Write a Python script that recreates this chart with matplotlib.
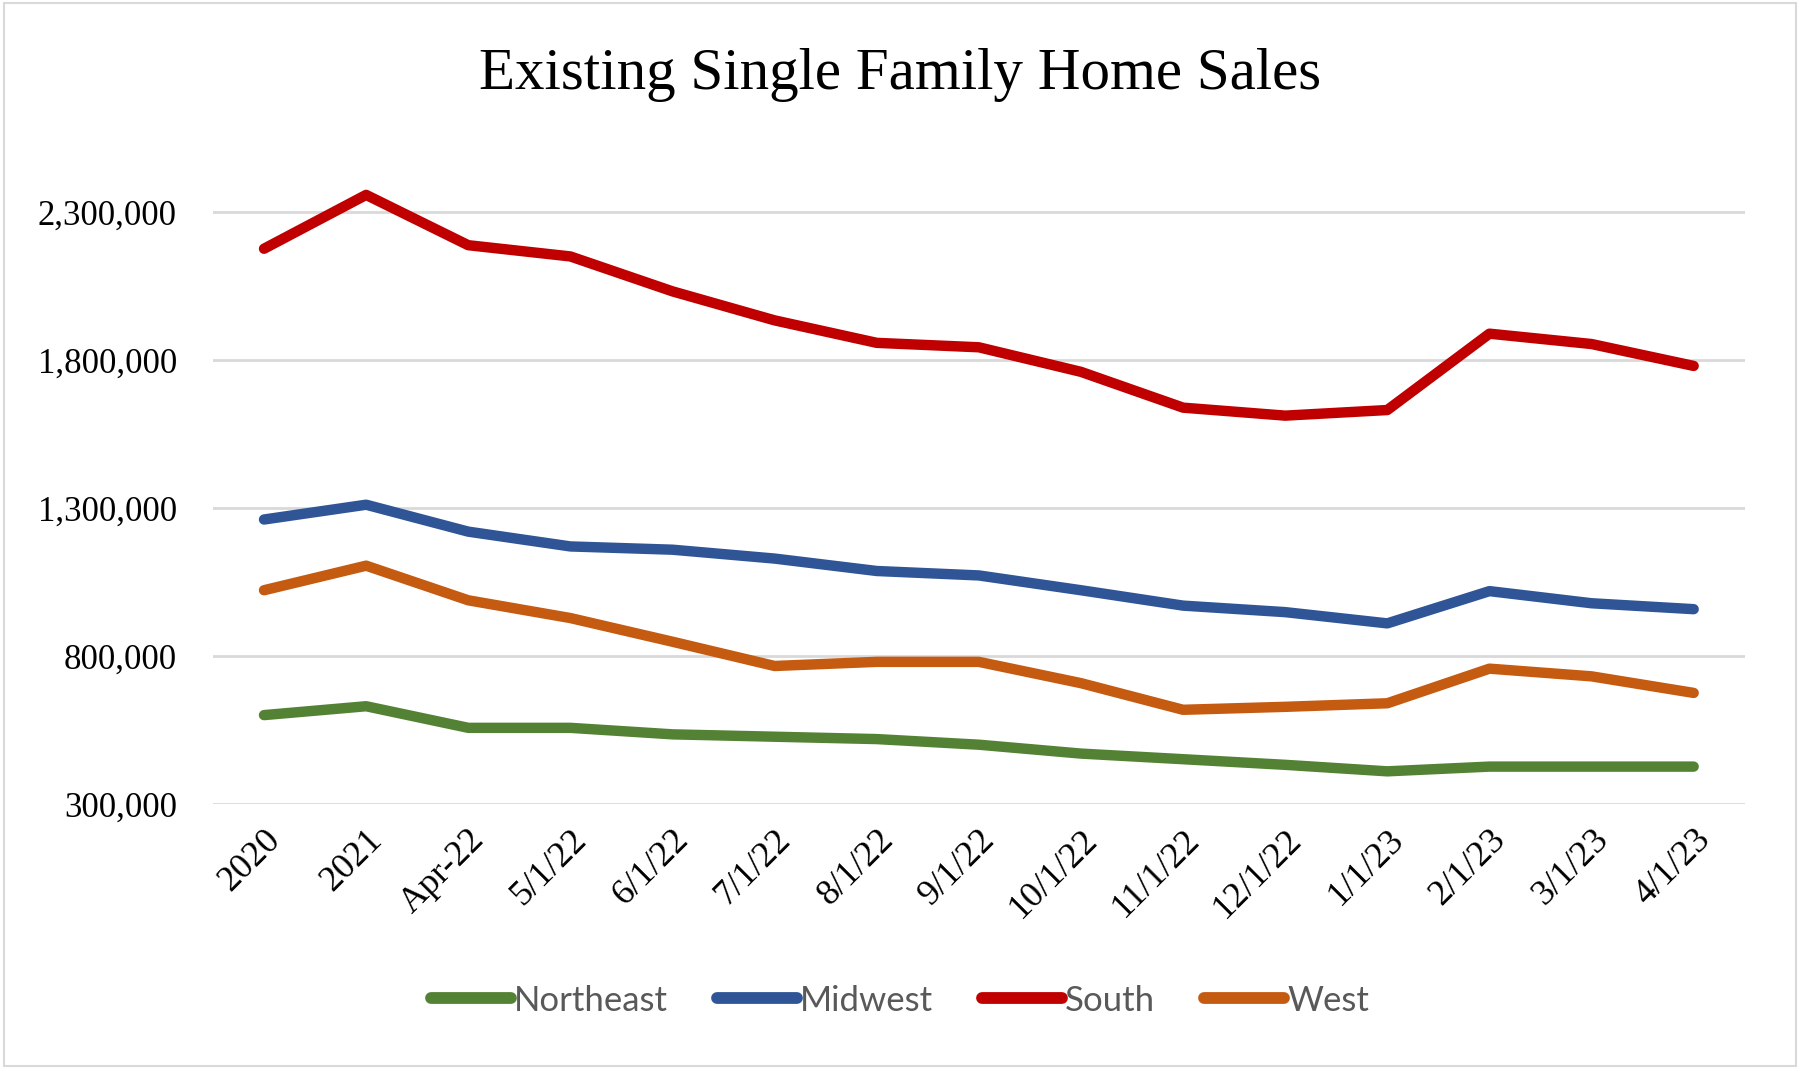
import matplotlib.pyplot as plt
from matplotlib.patches import Rectangle
from matplotlib.ticker import FuncFormatter

# categories along the x axis
periods = ["2020", "2021", "Apr-22", "5/1/22", "6/1/22", "7/1/22", "8/1/22",
           "9/1/22", "10/1/22", "11/1/22", "12/1/22", "1/1/23", "2/1/23",
           "3/1/23", "4/1/23"]

# existing single family home sales by region
northeast = [600000, 630000, 557000, 557000, 535000, 527000, 519000, 500000,
             470000, 451000, 432000, 410000, 426000, 426000, 426000]
midwest = [1261000, 1311000, 1220000, 1170000, 1159000, 1129000, 1087000,
           1072000, 1022000, 970000, 948000, 910000, 1019000, 978000, 958000]
south = [2176000, 2358000, 2188000, 2150000, 2032000, 1934000, 1858000,
         1843000, 1760000, 1639000, 1612000, 1631000, 1889000, 1854000, 1780000]
west = [1022000, 1105000, 988000, 928000, 848000, 766000, 780000, 780000,
        708000, 618000, 628000, 640000, 757000, 731000, 675000]

series_names = ["Northeast", "Midwest", "South", "West"]
series_colors = ["#548235", "#2F5597", "#C00000", "#C55A11"]

serif = ["Liberation Serif", "DejaVu Serif"]

fig = plt.figure(figsize=(18, 10.69), dpi=100)
fig.patches.append(Rectangle((0.002, 0.003), 0.996, 0.994, transform=fig.transFigure,
                             fill=False, edgecolor="#D9D9D9", lw=1.5))

ax = fig.add_axes([0.1183, 0.248, 0.851, 0.609])

x = list(range(len(periods)))
for vals, name, col in zip([northeast, midwest, south, west], series_names, series_colors):
    ax.plot(x, vals, color=col, lw=7.5, label=name,
            solid_joinstyle="round", solid_capstyle="round")

ax.set_xlim(-0.5, len(periods) - 0.5)
ax.set_ylim(300000, 2500000)
ax.set_yticks([300000, 800000, 1300000, 1800000, 2300000])
ax.yaxis.set_major_formatter(FuncFormatter(lambda v, p: f"{int(v):,}"))
ax.set_xticks(x)
ax.set_xticklabels(periods, rotation=45, ha="right", rotation_mode="anchor",
                   family=serif, fontsize=26)
for lab in ax.get_yticklabels():
    lab.set_family(serif)
    lab.set_fontsize(25)

ax.yaxis.grid(True, color="#D9D9D9", lw=2)
ax.set_axisbelow(True)
for s in ax.spines.values():
    s.set_visible(False)
ax.tick_params(axis="y", length=0, pad=26)
ax.tick_params(axis="x", length=0, pad=14)

fig.text(0.5, 0.93, "Existing Single Family Home Sales", ha="center", va="center",
         family=serif, fontsize=42.5)

leg = fig.legend(loc="center", bbox_to_anchor=(0.5, 0.064), ncol=4, frameon=False,
                 prop={"family": ["Lato", "DejaVu Sans"], "size": 25},
                 handlelength=2.3, handletextpad=0.1, columnspacing=1.4)
for t in leg.get_texts():
    t.set_color("#595959")
for h in leg.get_lines():
    h.set_linewidth(8.5)

fig.savefig("out.png", dpi=100)
